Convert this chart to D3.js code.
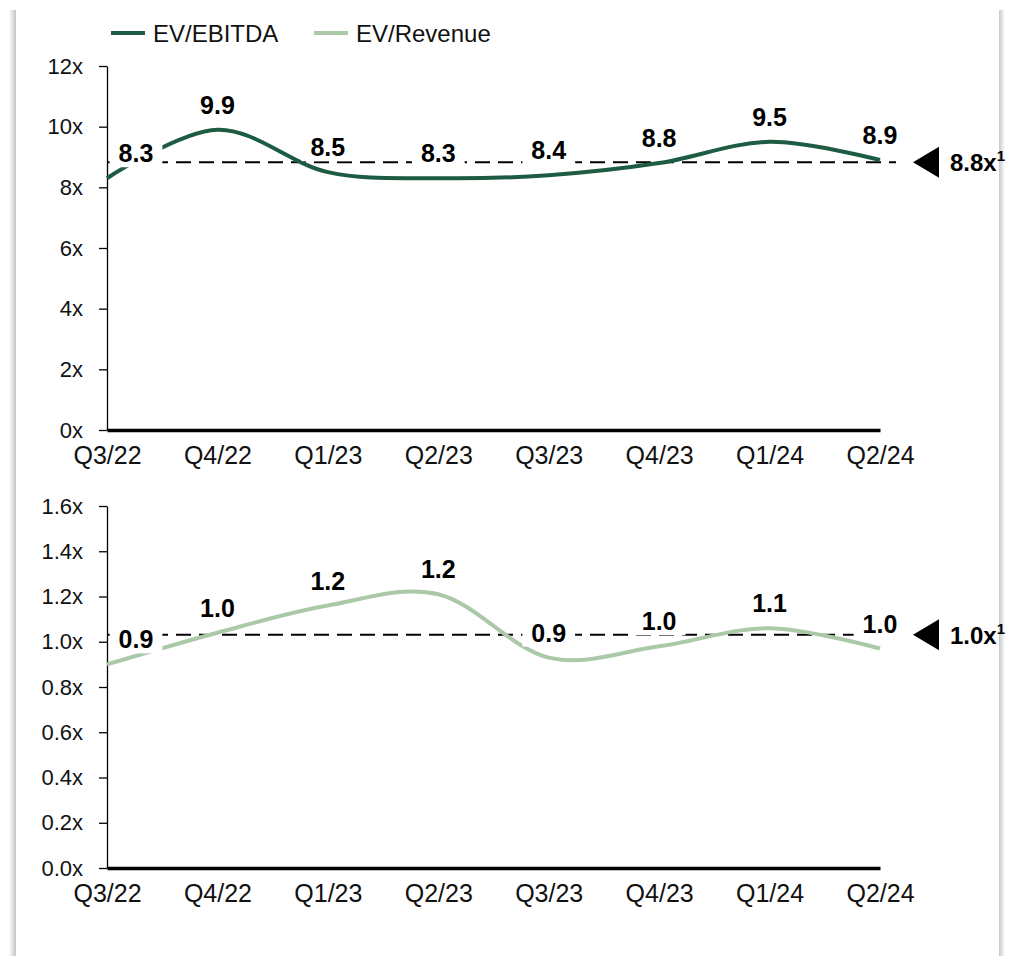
<!DOCTYPE html>
<html><head><meta charset="utf-8">
<script src="https://cdn.jsdelivr.net/npm/d3@7"></script>
<style>html,body{margin:0;padding:0;background:#fff;} svg{display:block;}</style>
</head><body>
<svg id="chart" width="1012" height="956"></svg>
<script>
const categories = ["Q3/22","Q4/22","Q1/23","Q2/23","Q3/23","Q4/23","Q1/24","Q2/24"];
const evEbitda = [8.3, 9.9, 8.5, 8.3, 8.4, 8.8, 9.5, 8.9];
const evRevenue = [0.90, 1.04, 1.16, 1.21, 0.93, 0.98, 1.06, 0.97];
const ebitdaTicks = [0, 2, 4, 6, 8, 10, 12];
const revenueTicks = [0, 0.2, 0.4, 0.6, 0.8, 1.0, 1.2, 1.4, 1.6];
const seriesNames = ["EV/EBITDA", "EV/Revenue"];
const seriesColors = ["#1d5c42", "#abc9a8"];

const FONT = "'Liberation Sans', Arial, Helvetica, sans-serif";
const svg = d3.select("#chart");
const defs = svg.append("defs");

// card background + side shadows
svg.append("rect").attr("width", 1012).attr("height", 956).attr("fill", "#fff");
const gl = defs.append("linearGradient").attr("id", "shL").attr("x1", 0).attr("x2", 1);
gl.append("stop").attr("offset", 0).attr("stop-color", "#fff");
gl.append("stop").attr("offset", 1).attr("stop-color", "#c4c4c4");
const gr = defs.append("linearGradient").attr("id", "shR").attr("x1", 0).attr("x2", 1);
gr.append("stop").attr("offset", 0).attr("stop-color", "#c8c8c8");
gr.append("stop").attr("offset", 1).attr("stop-color", "#fff");
svg.append("rect").attr("x", 9).attr("y", 10).attr("width", 7).attr("height", 946).attr("fill", "url(#shL)");
svg.append("rect").attr("x", 999).attr("y", 10).attr("width", 6).attr("height", 946).attr("fill", "url(#shR)");

const x = d3.scalePoint().domain(categories).range([107, 880]);

function panel(values, ticks, yRange, color, tickFmt, avgFmt, labelOff) {
  const y = d3.scaleLinear().domain([ticks[0], ticks[ticks.length - 1]]).range(yRange);
  const g = svg.append("g");

  // y axis
  const ya = g.append("g").attr("transform", `translate(${x.range()[0]},0)`)
    .call(d3.axisLeft(y).tickValues(ticks).tickSize(8).tickSizeOuter(0).tickPadding(16).tickFormat(tickFmt));
  ya.select(".domain").attr("stroke", "#000").attr("stroke-width", 1.3);
  ya.selectAll(".tick line").attr("stroke", "#000").attr("stroke-width", 1.3);
  ya.selectAll("text").attr("font-family", FONT).attr("font-size", 22).attr("fill", "#111");

  // x axis
  const xa = g.append("g").attr("transform", `translate(0,${yRange[0]})`)
    .call(d3.axisBottom(x).tickSize(0).tickSizeOuter(0).tickPadding(16));
  xa.select(".domain").attr("stroke", "#000").attr("stroke-width", 3.5);
  xa.selectAll("text").attr("font-family", FONT).attr("font-size", 25).attr("fill", "#111");

  // average dashed line
  const avg = d3.mean(values);
  const ay = y(avg);
  g.append("line").attr("x1", x.range()[0]).attr("x2", 896).attr("y1", ay).attr("y2", ay)
    .attr("stroke", "#000").attr("stroke-width", 2).attr("stroke-dasharray", "15,8");

  // series
  const line = d3.line().x((d, i) => x(categories[i])).y(d => y(d)).curve(d3.curveCatmullRom.alpha(0));
  g.append("path").datum(values).attr("d", line).attr("fill", "none")
    .attr("stroke", color).attr("stroke-width", 4).attr("stroke-linecap", "butt");

  // data labels
  const fmt = d3.format(".1f");
  values.forEach((v, i) => {
    const cx = x(categories[i]) + (i === 0 ? 29 : 0);
    const cy = y(v) - labelOff;
    const lg = g.append("g");
    const t = lg.append("text").attr("x", cx).attr("y", cy + 9).attr("text-anchor", "middle")
      .attr("font-family", FONT).attr("font-weight", "bold").attr("font-size", 25).attr("fill", "#000")
      .text(fmt(v));
    const bb = t.node().getBBox();
    lg.insert("rect", "text").attr("x", bb.x - 9).attr("y", cy - 14).attr("width", bb.width + 18)
      .attr("height", 28).attr("fill", "#fff");
  });

  // average marker
  g.append("path").attr("d", `M913,${ay}L939,${ay - 15.5}L939,${ay + 15.5}Z`).attr("fill", "#000");
  const at = g.append("text").attr("x", 950).attr("y", ay + 9)
    .attr("font-family", FONT).attr("font-weight", "bold").attr("font-size", 24).attr("fill", "#000");
  at.append("tspan").text(avgFmt(avg) + "x");
  at.append("tspan").attr("font-size", 15).attr("dy", -10).text("1");
}

panel(evEbitda, ebitdaTicks, [430, 66], seriesColors[0], d => d3.format("d")(d) + "x", d3.format(".1f"), 25);
panel(evRevenue, revenueTicks, [868, 506], seriesColors[1], d => d3.format(".1f")(d) + "x", d3.format(".1f"), 25);

// legend
const legX = [111, 314];
seriesNames.forEach((n, i) => {
  svg.append("line").attr("x1", legX[i]).attr("x2", legX[i] + 34).attr("y1", 33).attr("y2", 33)
    .attr("stroke", seriesColors[i]).attr("stroke-width", 4);
  svg.append("text").attr("x", legX[i] + 42).attr("y", 42).attr("font-family", FONT)
    .attr("font-size", 24).attr("fill", "#111").text(n);
});
</script>
</body></html>
